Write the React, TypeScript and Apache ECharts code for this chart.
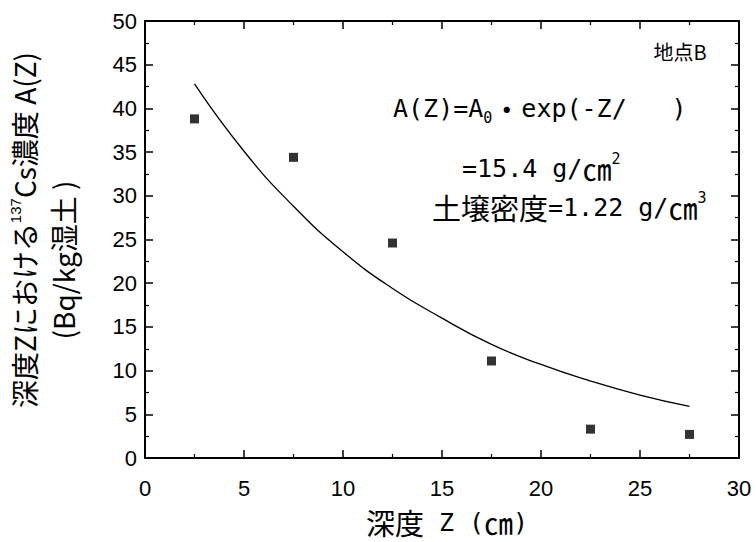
import React, { useEffect, useRef } from "react";
import * as echarts from "echarts";

const depthPoints = [2.5, 7.5, 12.5, 17.5, 22.5, 27.5];
const measured = [38.8, 34.4, 24.6, 11.1, 3.3, 2.7];
const fitDepth = [2.5, 5, 7.5, 10, 12.5, 15, 17.5, 20, 22.5, 25, 27.5];
const fitValues = [42.8, 35.1, 28.8, 23.6, 19.4, 16.0, 13.0, 10.7, 8.8, 7.2, 5.9];

const CJK = "'Noto Sans CJK JP', 'Noto Sans', sans-serif";
const LAT = "'Liberation Sans', Arial, sans-serif";
const MONO = "'DejaVu Sans Mono', 'Liberation Mono', monospace";

export default function App() {
  const ref = useRef<HTMLDivElement>(null);
  useEffect(() => {
    if (!ref.current) return;
    const chart = echarts.init(ref.current, null, { renderer: "svg" });
    const axisCommon = {
      type: "value" as const,
      axisLine: { show: true, onZero: false, lineStyle: { color: "#000", width: 2 } },
      axisTick: { show: true, inside: true, length: 8, lineStyle: { color: "#000", width: 1.5 } },
      minorTick: { show: true, splitNumber: 2, length: 4, lineStyle: { color: "#000", width: 1.2 } },
      splitLine: { show: false },
    };
    const annRich = {
      l: { fontSize: 25, fontFamily: MONO, fill: "#000", lineHeight: 34 },
      c: { fontSize: 29, fontFamily: CJK, fill: "#000", lineHeight: 34 },
      sup: { fontSize: 15, fontFamily: MONO, fill: "#000", verticalAlign: "top", lineHeight: 16 },
      sub: { fontSize: 15, fontFamily: MONO, fill: "#000", verticalAlign: "bottom", lineHeight: 16 },
    };
    chart.setOption({
      animation: false,
      backgroundColor: "#fff",
      grid: { left: 145, right: 17, top: 21, bottom: 84 },
      xAxis: [
        {
          ...axisCommon,
          min: 0,
          max: 30,
          interval: 5,
          position: "bottom",
          axisLabel: { show: true, color: "#000", fontSize: 22, fontFamily: LAT, margin: 19 },
        },
        {
          ...axisCommon,
          min: 0,
          max: 30,
          interval: 5,
          position: "top",
          axisLabel: { show: false },
        },
      ],
      yAxis: [
        {
          ...axisCommon,
          min: 0,
          max: 50,
          interval: 5,
          position: "left",
          axisLabel: { show: true, color: "#000", fontSize: 22, fontFamily: LAT, margin: 8 },
        },
        {
          ...axisCommon,
          min: 0,
          max: 50,
          interval: 5,
          position: "right",
          axisLabel: { show: false },
        },
      ],
      series: [
        {
          type: "line",
          data: fitDepth.map((d, i) => [d, fitValues[i]]),
          smooth: true,
          showSymbol: false,
          lineStyle: { color: "#000", width: 1.3 },
          z: 2,
        },
        {
          type: "scatter",
          data: depthPoints.map((d, i) => [d, measured[i]]),
          symbol: "rect",
          symbolSize: 9,
          itemStyle: { color: "#000" },
          z: 3,
        },
      ],
      graphic: [
        {
          type: "text",
          x: 447,
          y: 522,
          style: {
            text: "{c|深度}{l| Z (}{c|㎝}{l|)}",
            align: "center",
            verticalAlign: "middle",
            fill: "#000",
            rich: annRich,
          },
        },
        {
          type: "text",
          x: 24,
          y: 230,
          rotation: Math.PI / 2,
          style: {
            text: "{m|深度Zにおける}{sup|137}{m|Cs濃度 A(Z)}",
            align: "center",
            verticalAlign: "middle",
            fill: "#000",
            rich: {
              m: { fontSize: 28, fontFamily: CJK, fill: "#000", lineHeight: 32 },
              sup: { fontSize: 15, fontFamily: LAT, fill: "#000", verticalAlign: "top", lineHeight: 16 },
            },
          },
        },
        {
          type: "text",
          x: 63,
          y: 260,
          rotation: Math.PI / 2,
          style: {
            text: "(Bq/kg湿土 )",
            fontSize: 28,
            fontFamily: CJK,
            fill: "#000",
            align: "center",
            verticalAlign: "middle",
          },
        },
        {
          type: "text",
          x: 680,
          y: 51,
          style: { text: "地点B", fontSize: 20, fontFamily: CJK, fill: "#000", align: "center", verticalAlign: "middle" },
        },
        {
          type: "text",
          x: 393,
          y: 108,
          style: {
            text: "{l|A(Z)=A}{sub|0}{c|・}{l|exp(-Z/}",
            align: "left",
            verticalAlign: "middle",
            fill: "#000",
            rich: annRich,
          },
        },
        {
          type: "text",
          x: 679,
          y: 108,
          style: { text: ")", fontSize: 25, fontFamily: MONO, fill: "#000", align: "center", verticalAlign: "middle" },
        },
        {
          type: "text",
          x: 462,
          y: 168,
          style: {
            text: "{l|=15.4 g/}{c|㎝}{sup|2}",
            align: "left",
            verticalAlign: "middle",
            fill: "#000",
            rich: annRich,
          },
        },
        {
          type: "text",
          x: 432,
          y: 207,
          style: {
            text: "{c|土壌密度}{l|=1.22 g/}{c|㎝}{sup|3}",
            align: "left",
            verticalAlign: "middle",
            fill: "#000",
            rich: annRich,
          },
        },
      ],
    });
    return () => chart.dispose();
  }, []);
  return <div ref={ref} style={{ width: 756, height: 542, position: "absolute", left: 0, top: 0 }} />;
}
